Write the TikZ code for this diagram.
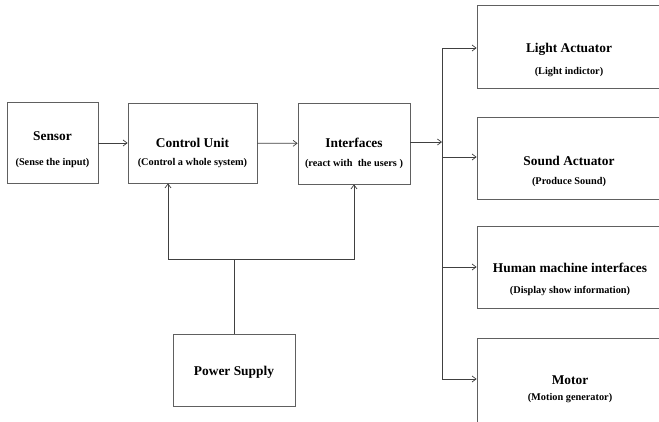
\documentclass[tikz,border=0pt]{standalone}
\usepackage{fontspec}
\setmainfont{Liberation Serif}
\usetikzlibrary{arrows.meta}

\tikzset{
  block/.style={draw=gray!75!black, line width=0.8pt, inner sep=0pt},
  txt/.style={align=center, font=\bfseries, inner sep=0pt},
  wire/.style={draw=black!75, line width=0.7pt}
}
\newcommand{\titl}[1]{{\fontsize{13.4}{15}\selectfont #1}}
\newcommand{\subt}[1]{{\fontsize{10.3}{12}\selectfont #1}}

\begin{document}
\begin{tikzpicture}[x=1pt, y=-1pt, >={Straight Barb[length=4pt,width=6pt]}]

\useasboundingbox (0,0) rectangle (659,421);

% Left row of blocks
\node[block, minimum width=91pt, minimum height=81pt] (sensor) at (52.5,143) {};
\node[block, minimum width=129pt, minimum height=80pt] (control) at (192.5,143) {};
\node[block, minimum width=112pt, minimum height=81pt] (interf) at (354,143.5) {};
\node[txt] (sensortxt) at (52.5,149.5) {\titl{Sensor}\\[13.2pt] \subt{(Sense the input)}};
\node[txt] (controltxt) at (192.5,153) {\titl{Control Unit}\\[6.2pt] \subt{(Control a whole system)}};
\node[txt] (interftxt) at (354,153.5) {\titl{Interfaces}\\[7.2pt] \subt{(react with\ \ the users )}};

% Power block
\node[block, minimum width=122pt, minimum height=72pt] (power) at (234,370) {};
\node[txt] (powertxt) at (234,372) {\titl{Power Supply}};

% Output blocks on the right
\node[block, minimum width=183pt, minimum height=83pt] (light) at (568.5,46.5) {};
\node[block, minimum width=183pt, minimum height=82pt] (sound) at (568.5,158) {};
\node[block, minimum width=183pt, minimum height=82pt] (hmi) at (568.5,267) {};
\node[block, minimum width=183pt, minimum height=87pt] (motor) at (568.5,381.5) {};
\node[txt] (lighttxt) at (569,60) {\titl{Light Actuator}\\[10.2pt] \subt{(Light indictor)}};
\node[txt] (soundtxt) at (569,171.5) {\titl{Sound Actuator}\\[7.2pt] \subt{(Produce Sound)}};
\node[txt] (hmitxt) at (570,279.5) {\titl{Human\ machine interfaces}\\[9.2pt] \subt{(Display show information)}};
\node[txt] (motortxt) at (570,389) {\titl{Motor}\\[4.2pt] \subt{(Motion generator)}};

% Main chain
\draw[wire, ->] (sensor) -- (control);
\draw[wire, ->] (control) -- (interf);

% Bus to the outputs
\coordinate (bustop) at (442,48);
\coordinate (busbot) at (442,379);
\coordinate (busin) at (442,142);
\draw[wire] (bustop) -- (busbot);
\draw[wire, ->] (interf.east |- busin) -- (busin);
\draw[wire, ->] (bustop) -- (light.west |- bustop);
\draw[wire, ->] (442,157) -- (sound.west |- 442,157);
\draw[wire, ->] (hmi.west -| bustop) -- (hmi.west);
\draw[wire, ->] (busbot) -- (motor.west |- busbot);

% Power lines
\coordinate (split) at (234,259);
\draw[wire] (power.north) -- (split);
\draw[wire, ->] (split) -| ([xshift=-24.5pt]control.south);
\draw[wire, ->] (split) -| (interf.south);

\end{tikzpicture}
\end{document}
